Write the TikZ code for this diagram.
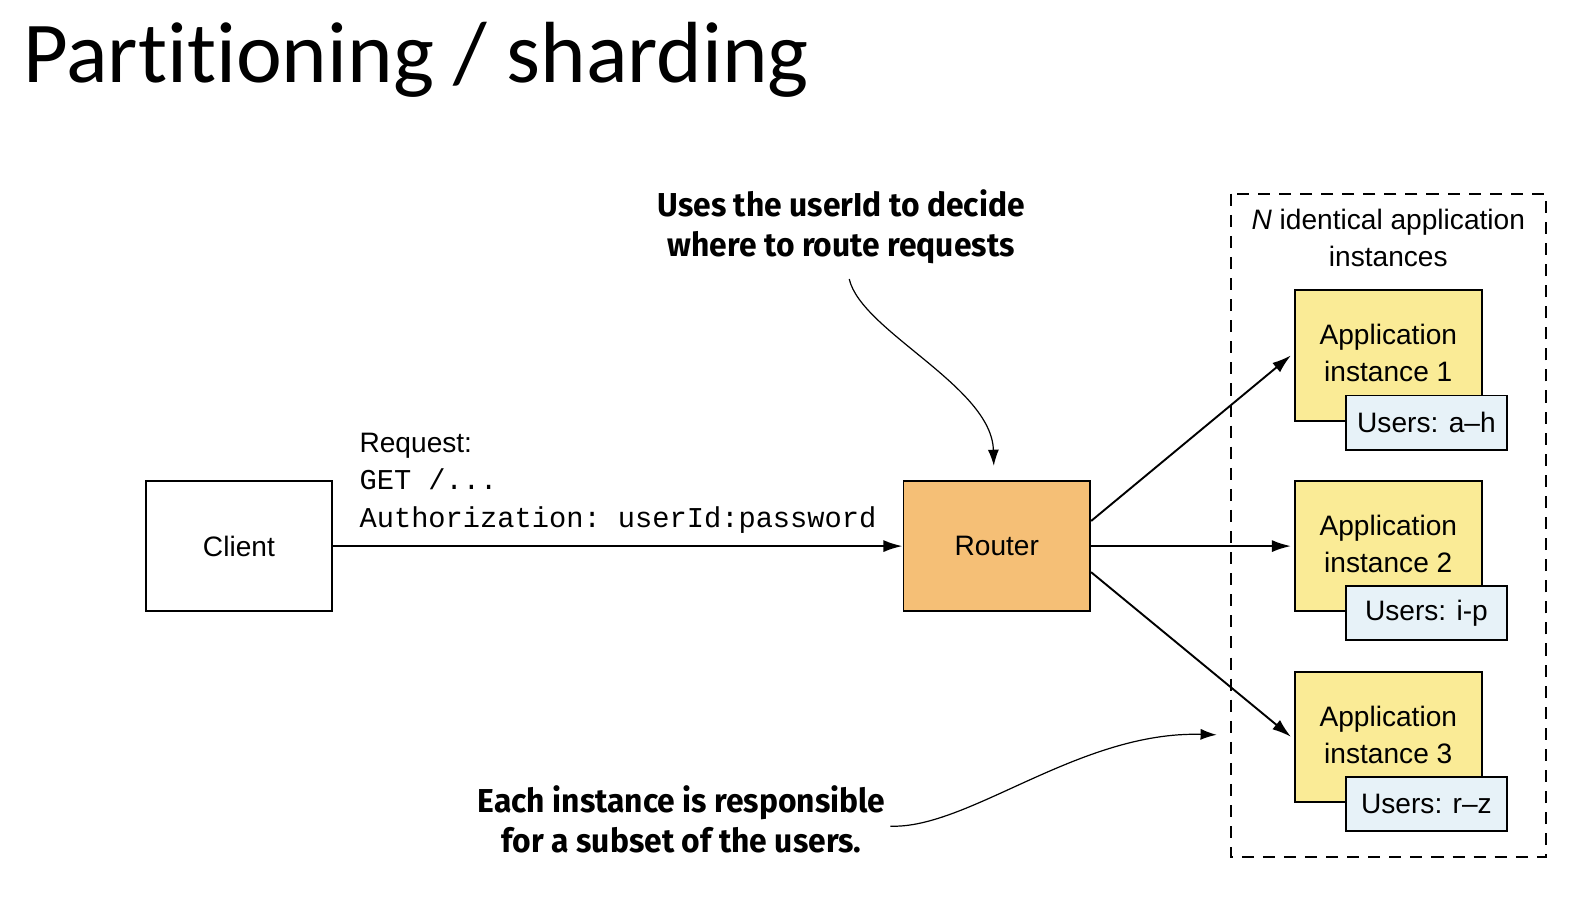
\documentclass[tikz,border=0pt]{standalone}
\usepackage{fontspec}
\setmainfont{Liberation Sans}
\setmonofont{Liberation Mono}
\newfontfamily\titlefont[Ligatures={NoCommon,NoContextual}]{Carlito}
\newfontfamily\annfont[FakeStretch=0.96]{Fira Sans}
\usetikzlibrary{arrows.meta}
\definecolor{routerfill}{HTML}{F5BF76}
\definecolor{appfill}{HTML}{FAEB96}
\definecolor{userfill}{HTML}{E7F2F8}
\tikzset{
  box/.style={draw=black, line width=1.9pt, inner sep=0pt, minimum width=186pt, minimum height=130pt, align=center, font=\fontsize{28}{37}\selectfont},
  userbox/.style={draw=black, line width=1.9pt, inner sep=0pt, minimum width=160pt, minimum height=54pt, fill=userfill, font=\fontsize{28}{37}\selectfont},
  arr/.style={line width=1.9pt, -{Latex[length=19pt,width=12pt]}},
  curvearr/.style={line width=1.2pt, -{Latex[length=16pt,width=11pt]}},
  ann/.style={align=center, inner sep=0pt, font=\annfont\bfseries\fontsize{33}{40}\selectfont},
  plain/.style={inner sep=0pt, font=\fontsize{28}{37}\selectfont},
  monotext/.style={inner sep=0pt, font=\ttfamily\fontsize{28.6}{37}\selectfont},
}
\begin{document}
\begin{tikzpicture}[x=1pt, y=-1pt]
\useasboundingbox (0,0) rectangle (1568,918);
% title
\node[anchor=base west, inner sep=0pt, font=\titlefont\fontsize{86.5}{90}\selectfont] (title) at (23,82) {Part\kern0pt it\kern0pt ioning / sharding};
% dashed container
\draw[line width=1.7pt, dash pattern=on 12pt off 9pt] (1226,193) rectangle (1540,854);
\node[plain, align=center] (ntext) at (1383,237) {\textit{N} identical application\\instances};
% client and router
\node[box] (client) at (238,544) {Client};
\node[box, fill=routerfill] (router) at (993,544) {Router};
% request label
\node[plain, anchor=base west] (req) at (358,451) {Request:};
\node[monotext, anchor=base west] (get) at (358,488) {GET /...};
\node[monotext, anchor=base west] (auth) at (358,525) {Authorization: userId:password};
% application instances
\node[box, fill=appfill] (app1) at (1383,354) {};
\node[plain, align=center] (app1t) at (1383,352) {Application\\instance 1};
\node[userbox] (u1) at (1421,421) {Users: a--h};
\node[box, fill=appfill] (app2) at (1383,544) {};
\node[plain, align=center] (app2t) at (1383,542) {Application\\instance 2};
\node[userbox] (u2) at (1421,611) {Users: i-p};
\node[box, fill=appfill] (app3) at (1383,734) {};
\node[plain, align=center] (app3t) at (1383,732) {Application\\instance 3};
\node[userbox] (u3) at (1421,801) {Users: r--z};
% connectors
\draw[arr] (client.east) -- (router.west);
\draw[arr] ([yshift=25pt]router.east) -- ([xshift=-3pt]app1.west);
\draw[arr] (router.east) -- ([xshift=-3pt]app2.west);
\draw[arr] ([yshift=-26pt]router.east) -- ([xshift=-3pt]app3.west);
% annotations
\node[ann] (ann1) at (838,226) {Uses the userId to decide\\where to route requests};
\node[ann] (ann2) at (679,816) {Each instance is responsible\\for a subset of the users.};
\coordinate (c1s) at (846,278);
\coordinate (c1e) at (990,464);
\coordinate (c2s) at (887,823);
\coordinate (c2e) at (1212,732);
\draw[curvearr] (c1s) .. controls (858,330) and (988,385) .. (c1e);
\draw[curvearr] (c2s) .. controls (965,826) and (1075,728) .. (c2e);
\end{tikzpicture}
\end{document}
